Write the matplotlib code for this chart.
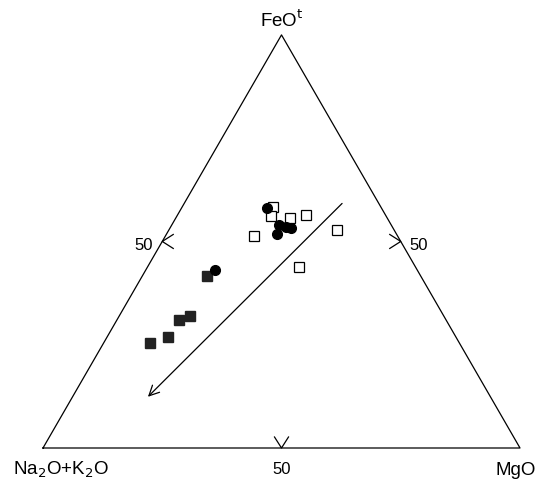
import numpy as np
import matplotlib.pyplot as plt

plt.rcParams['font.family'] = ['Liberation Sans', 'DejaVu Sans']

# ternary data, percentages: (FeOt, Na2O+K2O, MgO)
circ_fe = [58.0, 54.1, 51.9, 53.6, 53.2, 43.0]
circ_alk = [24.0, 23.5, 25.0, 22.3, 21.4, 42.4]
circ_mg = [18.0, 22.4, 23.1, 24.1, 25.4, 14.6]

open_fe = [58.3, 56.1, 55.6, 56.3, 51.2, 52.7, 43.9]
open_alk = [22.6, 24.1, 20.4, 16.7, 30.2, 12.0, 24.4]
open_mg = [19.1, 19.8, 24.0, 27.0, 18.6, 35.3, 31.7]

sq_fe = [41.7, 32.0, 31.1, 26.9, 25.5]
sq_alk = [44.8, 53.2, 55.9, 60.4, 64.8]
sq_mg = [13.5, 14.8, 13.0, 12.7, 9.7]

# trend arrow (start, end)
arrow_fe = [59.2, 12.4]
arrow_alk = [7.7, 71.8]
arrow_mg = [33.1, 15.8]

corner_labels = ['FeO$^{\\mathrm{t}}$', 'Na$_2$O+K$_2$O', 'MgO']


def tern(fe, alk, mg):
    fe = np.asarray(fe, float)
    alk = np.asarray(alk, float)
    mg = np.asarray(mg, float)
    tot = fe + alk + mg
    x = (mg + fe / 2) / tot
    y = fe / tot * np.sqrt(3) / 2
    return x, y


fig = plt.figure(figsize=(5.5, 4.9), dpi=100)
ax = fig.add_axes([0, 0, 1, 1])
s = 477.0
ax.set_xlim(-43 / s, (550 - 43) / s)
ax.set_ylim(-(490 - 448) / s, 448 / s)
ax.axis('off')

# triangle outline
tx, ty = tern([0, 100, 0, 0], [100, 0, 0, 100], [0, 0, 100, 0])
ax.plot(tx, ty, color='black', lw=0.9)

# 50% chevron ticks
d = 11 / s
w = 7 / s
lx, ly = tern([50], [50], [0])
ax.plot([lx[0] + d, lx[0], lx[0] + d], [ly[0] + w, ly[0], ly[0] - w], color='black', lw=0.9)
rx, ry = tern([50], [0], [50])
ax.plot([rx[0] - d, rx[0], rx[0] - d], [ry[0] + w, ry[0], ry[0] - w], color='black', lw=0.9)
bx, by = tern([0], [50], [50])
ax.plot([bx[0] - w, bx[0], bx[0] + w], [by[0] + d, by[0], by[0] + d], color='black', lw=0.9)

ax.text(lx[0] - 9 / s, ly[0] - 4 / s, '50', ha='right', va='center', fontsize=12)
ax.text(rx[0] + 9 / s, ry[0] - 4 / s, '50', ha='left', va='center', fontsize=12)
ax.text(bx[0], by[0] - 21 / s, '50', ha='center', va='center', fontsize=12)

# corner labels
ax.text(0.5, np.sqrt(3) / 2 + 15 / s, corner_labels[0], ha='center', va='center', fontsize=13.5)
ax.text(-30 / s, -22 / s, corner_labels[1], ha='left', va='center', fontsize=13.5)
ax.text(1 + 16 / s, -22 / s, corner_labels[2], ha='right', va='center', fontsize=13.5)

# data points
x, y = tern(open_fe, open_alk, open_mg)
ax.plot(x, y, 's', ms=6.5, mfc='white', mec='black', mew=0.9, ls='none')
x, y = tern(sq_fe, sq_alk, sq_mg)
ax.plot(x, y, 's', ms=6.5, mfc='#222222', mec='#222222', ls='none')
x, y = tern(circ_fe, circ_alk, circ_mg)
ax.plot(x, y, 'o', ms=7, mfc='black', mec='black', ls='none')

# trend arrow
ax_, ay_ = tern(arrow_fe, arrow_alk, arrow_mg)
ax.annotate('', xy=(ax_[1], ay_[1]), xytext=(ax_[0], ay_[0]),
            arrowprops=dict(arrowstyle='->', color='black', lw=0.9,
                            mutation_scale=18, shrinkA=0, shrinkB=0))

fig.savefig('out.png', dpi=100)
